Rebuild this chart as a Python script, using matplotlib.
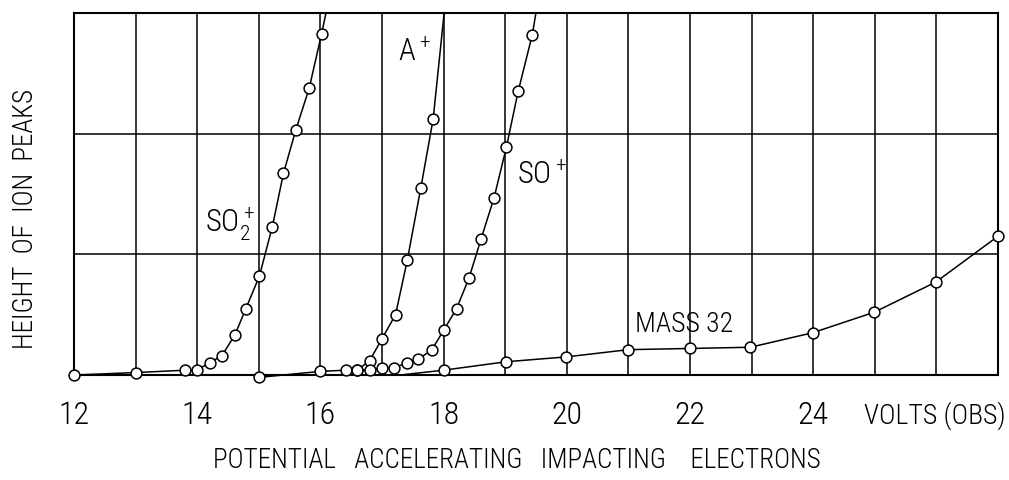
import matplotlib
matplotlib.use('Agg')
import matplotlib.pyplot as plt
from matplotlib.patches import Rectangle

# narrow lettering if there is one, otherwise plain sans
plt.rcParams['font.family'] = ['Liberation Sans Narrow', 'Roboto Condensed', 'Roboto', 'DejaVu Sans']
plt.rcParams['font.weight'] = 'light'
plt.rcParams['mathtext.default'] = 'regular'

# values (volts, height in grid units)
so2_v = [12.0, 13.0, 13.81, 13.99, 14.2, 14.4, 14.61, 14.79, 15.01, 15.22, 15.40, 15.60, 15.82, 16.02, 16.3]
so2_h = [0.0, 0.02, 0.04, 0.04, 0.10, 0.16, 0.33, 0.55, 0.82, 1.23, 1.67, 2.03, 2.38, 2.83, 3.5]

ar_v = [15.0, 16.0, 16.41, 16.6, 16.8, 17.0, 17.22, 17.41, 17.63, 17.83, 18.09]
ar_h = [-0.02, 0.03, 0.04, 0.04, 0.12, 0.30, 0.50, 0.95, 1.55, 2.12, 3.4]

so_v = [16.6, 16.8, 17.0, 17.2, 17.4, 17.59, 17.81, 18.0, 18.21, 18.41, 18.61, 18.82, 19.02, 19.21, 19.44, 19.63]
so_h = [0.04, 0.04, 0.06, 0.06, 0.10, 0.13, 0.21, 0.37, 0.55, 0.80, 1.13, 1.47, 1.89, 2.35, 2.82, 3.4]

m32_v = [17.3, 18.0, 19.02, 19.99, 21.0, 22.0, 22.98, 23.99, 24.99, 25.99, 27.0]
m32_h = [0.0, 0.04, 0.11, 0.15, 0.21, 0.22, 0.23, 0.35, 0.52, 0.77, 1.15]

volt_ticks = list(range(12, 28))
tick_labels = ['12', '', '14', '', '16', '', '18', '', '20', '', '22', '', '24', '', '', '']

fig = plt.figure(figsize=(10.09, 4.81), dpi=100)
ax = fig.add_axes([74/1009, 1 - 376/481, 924/1009, 362/481])

# let the circles on the frame edge show, but cut lines at the top
clip = Rectangle((-0.02, -0.06), 1.04, 1.06, transform=ax.transAxes)

style = dict(color='black', lw=1.1, marker='o', ms=7.8, mfc='white', mec='black', mew=1.1)
for v, h, every in [(so2_v, so2_h, None), (ar_v, ar_h, None), (so_v, so_h, None), (m32_v, m32_h, slice(1, None))]:
    line, = ax.plot(v, h, markevery=every, zorder=3, **style)
    line.set_clip_path(clip)

ax.set_xlim(12, 27)
ax.set_ylim(0, 3)
ax.set_xticks(volt_ticks)
ax.set_xticklabels(tick_labels, fontsize=23)
ax.set_yticks([1, 2])
ax.set_yticklabels([])
ax.tick_params(length=0, pad=18)
ax.grid(True, color='black', lw=1.1)
for s in ax.spines.values():
    s.set_linewidth(1.5)

ax.text(25.98, -0.33, 'VOLTS (OBS)', fontsize=20, ha='center', va='center')

ax.text(14.12, 1.26, r'$SO_2^+$', fontsize=22, va='center')
ax.text(17.26, 2.68, r'$A^+$', fontsize=22, va='center')
ax.text(19.19, 1.66, r'$SO^+$', fontsize=22, va='center')
ax.text(21.11, 0.43, 'MASS 32', fontsize=20, va='center')

fig.text(0.512, 1 - 461/481, 'POTENTIAL   ACCELERATING   IMPACTING    ELECTRONS', fontsize=19.5, ha='center', va='center')
fig.text(0.025, 1 - 219/481, 'HEIGHT  OF  ION  PEAKS', fontsize=19.5, rotation=90, ha='center', va='center')

fig.savefig('out.png', dpi=100)
